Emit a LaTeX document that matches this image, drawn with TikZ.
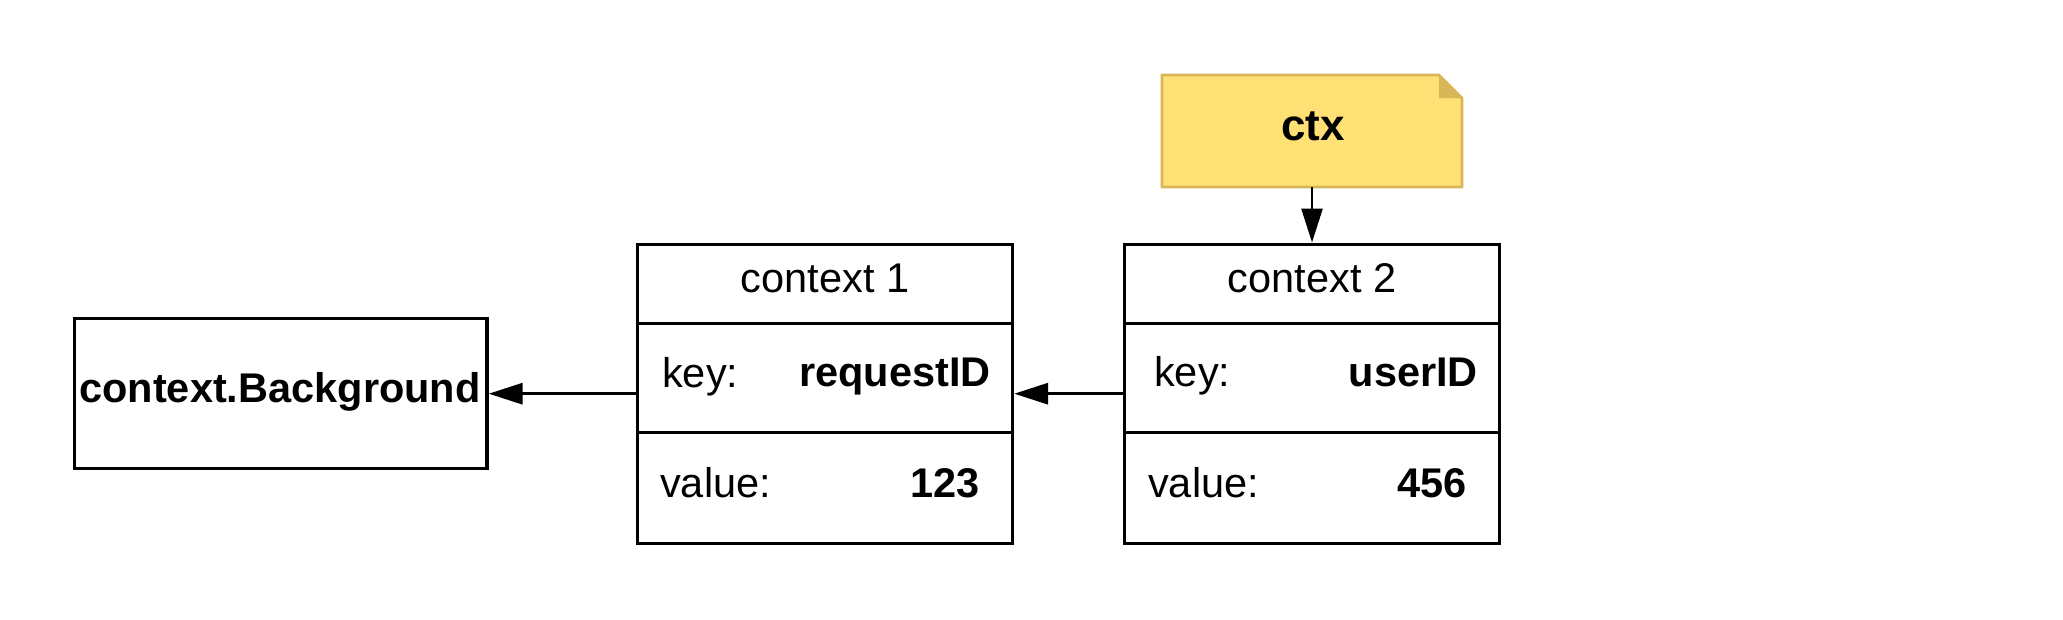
\documentclass[tikz,border=0pt]{standalone}
\usepackage{fontspec}
\setmainfont{Liberation Sans}
\usetikzlibrary{arrows.meta}
\definecolor{notefill}{HTML}{FFE075}
\definecolor{noteline}{HTML}{D6B656}
\begin{document}
\begin{tikzpicture}[x=1pt,y=-1pt,
  box/.style={draw, line width=3.4pt, inner sep=0pt, minimum width=375pt, minimum height=299pt},
  txt/.style={inner sep=0pt, font=\fontsize{41.5}{48}\selectfont},
  bold/.style={inner sep=0pt, font=\fontsize{41.5}{48}\selectfont\bfseries},
  arr/.style={line width=3.4pt, -{Triangle[length=34pt,width=21pt]}}]
\useasboundingbox (0,0) rectangle (2063,619);
% boxes
\node[box] (c1) at (825,393.7) {};
\node[box] (c2) at (1312,393.7) {};
\node[draw, line width=3.4pt, minimum width=412.5pt, minimum height=150pt, inner sep=0pt] (bg) at (280.75,393.7) {};
% dividers
\draw[line width=3.4pt] (637.5,323.3) -- (1012.5,323.3);
\draw[line width=3.4pt] (637.5,432.3) -- (1012.5,432.3);
\draw[line width=3.4pt] (1124.5,323.3) -- (1499.5,323.3);
\draw[line width=3.4pt] (1124.5,432.3) -- (1499.5,432.3);
% note
\node[minimum width=300pt, minimum height=112pt, inner sep=0pt, outer sep=0pt] (ctx) at (1312,131) {};
\filldraw[fill=notefill, draw=noteline, line width=2.6pt] (ctx.north west) -- ([xshift=-23pt]ctx.north east) -- ([yshift=-23pt]ctx.north east) -- (ctx.south east) -- (ctx.south west) -- cycle;
\fill[noteline] ([xshift=-23pt]ctx.north east) -- ([xshift=-23pt,yshift=-23pt]ctx.north east) -- ([yshift=-23pt]ctx.north east) -- cycle;
% texts
\node[inner sep=0pt, font=\fontsize{44}{50}\selectfont\bfseries, anchor=base] (ctxt) at (1313,140) {ctx};
\node[bold, anchor=base] (bgt) at (280,402) {context.Background};
\node[txt, anchor=base] (c1t) at (825,292) {context 1};
\node[txt, anchor=base west] (c1k) at (662,387) {key:};
\node[bold, anchor=base east] (c1kv) at (991,386) {requestID};
\node[txt, anchor=base west] (c1v) at (660,497) {value:};
\node[bold, anchor=base east] (c1vv) at (980,497) {123};
\node[txt, anchor=base] (c2t) at (1312,292) {context 2};
\node[txt, anchor=base west] (c2k) at (1154,386) {key:};
\node[bold, anchor=base east] (c2kv) at (1478,386) {userID};
\node[txt, anchor=base west] (c2v) at (1148,497) {value:};
\node[bold, anchor=base east] (c2vv) at (1467,497) {456};
% connectors
\draw[arr] (c1.west) -- (bg.east);
\draw[arr] (c2.west) -- (c1.east);
\draw[arr, line width=2.6pt] (ctx.south) -- (c2.north);
\end{tikzpicture}
\end{document}
